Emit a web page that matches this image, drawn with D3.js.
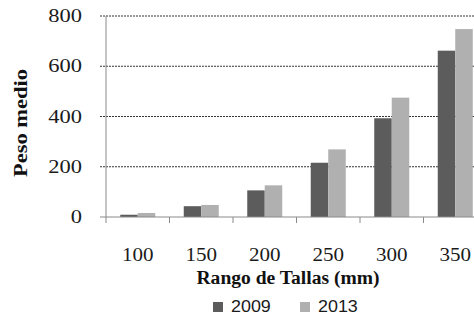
<!DOCTYPE html>
<html>
<head>
<meta charset="utf-8">
<script src="https://cdn.jsdelivr.net/npm/d3@7"></script>
<style>
  body { margin: 0; background: #fff; }
</style>
</head>
<body>
<script>
const categories = ['100', '150', '200', '250', '300', '350']
const series = ['2009', '2013']
const values2009 = [9, 43, 106, 216, 393, 662]
const values2013 = [16, 48, 126, 269, 475, 748]
const yTicks = [0, 200, 400, 600, 800]
const colors = ['#5c5c5c', '#b0b0b0']

const w = 474
const h = 316
const serif = '"Liberation Serif", "Times New Roman", serif'

const svg = d3.select('body').append('svg')
    .attr('width', w)
    .attr('height', h)

const x = d3.scaleBand()
    .domain(categories)
    .range([106, 487])

const xInner = d3.scaleBand()
    .domain(series)
    .range([0, 35])

const y = d3.scaleLinear()
    .domain([0, 800])
    .range([217, 16])

// gridlines
svg.append('g').selectAll('line')
    .data(yTicks.filter(d => d > 0))
    .enter()
    .append('line')
    .attr('x1', 100)
    .attr('x2', w)
    .attr('y1', d => y(d))
    .attr('y2', d => y(d))
    .attr('stroke', '#333')
    .attr('stroke-width', 1)
    .attr('stroke-dasharray', '2,1')

const rows = categories.map((c, i) => ({ cat: c, vals: [values2009[i], values2013[i]] }))

svg.append('g').selectAll('g')
    .data(rows)
    .enter()
    .append('g')
    .attr('transform', d => `translate(${x(d.cat) + x.bandwidth() / 2 - 17.5}, 0)`)
    .selectAll('rect')
    .data(d => d.vals.map((v, i) => ({ s: series[i], v, i })))
    .enter()
    .append('rect')
    .attr('x', d => xInner(d.s))
    .attr('width', xInner.bandwidth())
    .attr('y', d => y(d.v))
    .attr('height', d => y(0) - y(d.v))
    .attr('fill', d => colors[d.i])

// axis lines
svg.append('line')
    .attr('x1', 106).attr('x2', 106)
    .attr('y1', 16).attr('y2', 217)
    .attr('stroke', '#8a8a8a')

svg.append('line')
    .attr('x1', 100).attr('x2', w)
    .attr('y1', 217).attr('y2', 217)
    .attr('stroke', '#8a8a8a')

svg.append('g').selectAll('line')
    .data(x.domain().map(d => x(d)).concat([x.range()[1]]))
    .enter()
    .append('line')
    .attr('x1', d => d)
    .attr('x2', d => d)
    .attr('y1', 217).attr('y2', 223)
    .attr('stroke', '#8a8a8a')

// tick labels (the source font is drawn wide, so stretch a bit)
svg.append('g').selectAll('text')
    .data(yTicks)
    .enter()
    .append('text')
    .attr('transform', d => `translate(82, ${y(d) + 6}) scale(1.25, 1)`)
    .attr('text-anchor', 'end')
    .attr('font-family', serif)
    .attr('font-size', 18)
    .attr('fill', '#1a1a1a')
    .text(d => d)

svg.append('g').selectAll('text')
    .data(categories)
    .enter()
    .append('text')
    .attr('transform', d => `translate(${x(d) + x.bandwidth() / 2}, 261) scale(1.17, 1)`)
    .attr('text-anchor', 'middle')
    .attr('font-family', serif)
    .attr('font-size', 18)
    .attr('fill', '#1a1a1a')
    .text(d => d)

// axis titles
svg.append('text')
    .attr('transform', 'translate(288, 284) scale(1.03, 1)')
    .attr('text-anchor', 'middle')
    .attr('font-family', serif)
    .attr('font-size', 19)
    .attr('font-weight', 'bold')
    .attr('fill', '#111')
    .text('Rango de Tallas (mm)')

svg.append('text')
    .attr('transform', 'translate(27, 123) rotate(-90) scale(1.25, 1)')
    .attr('text-anchor', 'middle')
    .attr('font-family', serif)
    .attr('font-size', 18)
    .attr('font-weight', 'bold')
    .attr('fill', '#111')
    .text('Peso medio')

// legend
const legend = svg.append('g')
    .selectAll('g')
    .data(series)
    .enter()
    .append('g')
    .attr('transform', (d, i) => `translate(${213 + i * 87}, 0)`)

legend.append('rect')
    .attr('x', 0)
    .attr('y', 302)
    .attr('width', 10)
    .attr('height', 10)
    .attr('fill', (d, i) => colors[i])

legend.append('text')
    .attr('transform', 'translate(18, 312) scale(1.12, 1)')
    .attr('font-family', '"Liberation Sans", Arial, sans-serif')
    .attr('font-size', 16)
    .attr('fill', '#1a1a1a')
    .text(d => d)
</script>
</body>
</html>
